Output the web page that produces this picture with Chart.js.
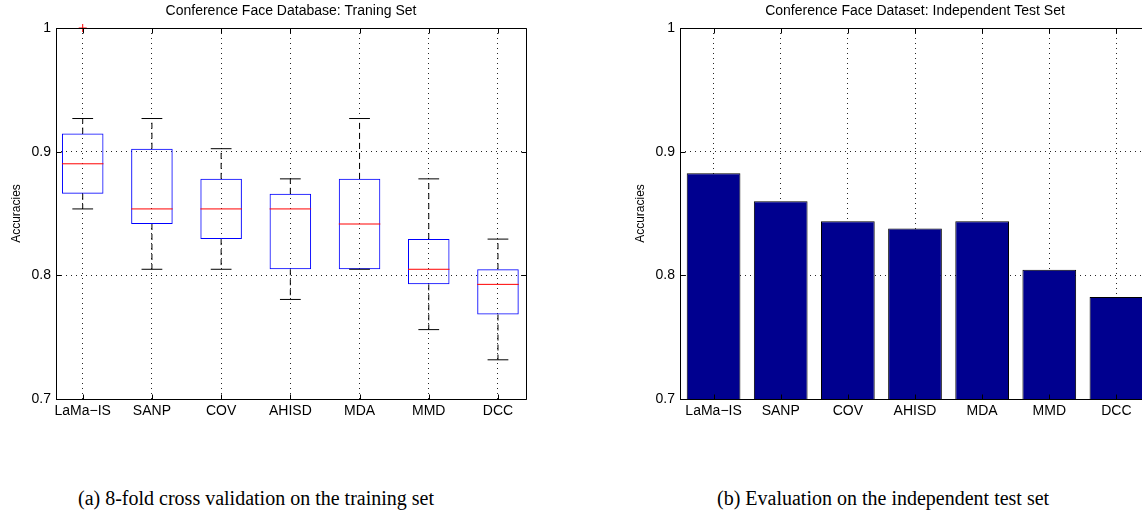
<!DOCTYPE html>
<html>
<head>
<meta charset="utf-8">
<script src="https://cdn.jsdelivr.net/npm/chart.js@4.4.1/dist/chart.umd.min.js"></script>
<style>
  html, body { margin: 0; padding: 0; background: #fff; width: 1142px; height: 513px; overflow: hidden; }
  #wrap { position: relative; width: 1142px; height: 513px; overflow: hidden; }
  canvas { position: absolute; top: 0; }
  #c1 { left: 0; }
  #c2 { left: 624px; }
  .cap { position: absolute; font-family: 'Liberation Serif', 'Times New Roman', serif; font-size: 20px; line-height: 20px; color: #000; white-space: nowrap; }
</style>
</head>
<body>
<div id="wrap">
  <canvas id="c1" width="582" height="440"></canvas>
  <canvas id="c2" width="582" height="440"></canvas>
  <div class="cap" style="left:78px; top:488px;">(a) 8-fold cross validation on the training set</div>
  <div class="cap" style="left:717px; top:488px;">(b) Evaluation on the independent test set</div>
</div>
<script>
// ---------- data ----------
const categories = ['LaMa\u2212IS', 'SANP', 'COV', 'AHISD', 'MDA', 'MMD', 'DCC'];
// training set (8-fold CV) box plot statistics
const upperWhisker = [0.9268, 0.9268, 0.9024, 0.8780, 0.9268, 0.8780, 0.8293];
const q3Values     = [0.9146, 0.9024, 0.8780, 0.8659, 0.8780, 0.8293, 0.8049];
const medianValues = [0.8902, 0.8537, 0.8537, 0.8537, 0.8415, 0.8049, 0.7927];
const q1Values     = [0.8659, 0.8415, 0.8293, 0.8049, 0.8049, 0.7927, 0.7683];
const lowerWhisker = [0.8537, 0.8049, 0.8049, 0.7805, 0.8049, 0.7561, 0.7317];
const outlierValues = [[1.0], [], [], [], [], [], []];
// independent test set accuracies
const testAccuracy = [0.8825, 0.8599, 0.8438, 0.8379, 0.8438, 0.8046, 0.7825];
const yTicks = [0.7, 0.8, 0.9, 1.0];
const titles = ['Conference Face Database: Traning Set', 'Conference Face Dataset: Independent Test Set'];

// ---------- helpers ----------
const FONT = "'Liberation Sans', Arial, Helvetica, sans-serif";
const GRID_COLOR = 'rgba(0,0,0,0.85)';

const panelPlugin = {
  id: 'panel',
  beforeDatasetsDraw(chart) {},
  afterDraw(chart, args, opts) {
    const { ctx, chartArea: { left, top, right, bottom } } = chart;
    ctx.save();
    // frame
    ctx.strokeStyle = '#000';
    ctx.lineWidth = 1;
    const L = Math.round(left) + 0.5, T = Math.round(top) + 0.5;
    const R = Math.round(right) + 0.5, B = Math.round(bottom) + 0.5;
    ctx.setLineDash([]);
    ctx.beginPath();
    ctx.moveTo(L, T); ctx.lineTo(R, T); ctx.lineTo(R, B); ctx.lineTo(L, B); ctx.closePath();
    ctx.stroke();
    // inward tick marks
    const xs = chart.scales.x, ys = chart.scales.y;
    ctx.beginPath();
    xs.ticks.forEach((t, i) => {
      const px = Math.round(xs.getPixelForTick(i)) + 0.5;
      ctx.moveTo(px, B); ctx.lineTo(px, B - 5);
      ctx.moveTo(px, T); ctx.lineTo(px, T + 5);
    });
    ys.ticks.forEach((t, i) => {
      const py = Math.round(ys.getPixelForTick(i)) + 0.5;
      ctx.moveTo(L, py); ctx.lineTo(L + 5, py);
      ctx.moveTo(R, py); ctx.lineTo(R - 5, py);
    });
    ctx.stroke();
    // panel title
    ctx.fillStyle = '#000';
    ctx.font = '14px ' + FONT;
    ctx.textAlign = 'center';
    ctx.textBaseline = 'middle';
    ctx.fillText(opts.text || '', (left + right) / 2, 11);
    ctx.restore();
  }
};

function yAxis() {
  return {
    type: 'linear',
    min: 0.7, max: 1.0,
    afterFit: s => { s.width = 56; },
    afterBuildTicks: s => { s.ticks = yTicks.map(v => ({ value: v })); },
    ticks: {
      color: '#000', padding: 5,
      font: { family: FONT, size: 14 },
      callback: v => String(Number(v.toFixed(2)))
    },
    grid: { color: GRID_COLOR, lineWidth: 1, drawTicks: false },
    border: { display: false, dash: [1, 4] },
    title: {
      display: true, text: 'Accuracies', color: '#000',
      font: { family: FONT, size: 12 },
      padding: { top: 9.5, bottom: 0 }
    }
  };
}

// ---------- left: box plots ----------
const pos = categories.map((_, i) => i + 1);
function segs(fn) {
  const out = [];
  pos.forEach((x, i) => { fn(x, i).forEach(p => out.push(p)); out.push({ x: x, y: null }); });
  return out;
}
const whiskerData = segs((x, i) => [
  { x: x, y: q3Values[i] }, { x: x, y: upperWhisker[i] }, { x: x, y: null },
  { x: x, y: q1Values[i] }, { x: x, y: lowerWhisker[i] }
]);
const capData = segs((x, i) => [
  { x: x - 0.15, y: upperWhisker[i] }, { x: x + 0.15, y: upperWhisker[i] }, { x: x, y: null },
  { x: x - 0.15, y: lowerWhisker[i] }, { x: x + 0.15, y: lowerWhisker[i] }
]);
const medianData = segs((x, i) => [
  { x: x - 0.3, y: medianValues[i] }, { x: x + 0.3, y: medianValues[i] }
]);
const outlierData = [];
outlierValues.forEach((arr, i) => arr.forEach(v => outlierData.push({ x: pos[i], y: v })));
const boxData = pos.map((x, i) => ({ x: x, y: [q1Values[i], q3Values[i]] }));

const lineBase = { type: 'line', pointRadius: 0, pointHoverRadius: 0, spanGaps: false, tension: 0, fill: false, borderWidth: 1 };

new Chart(document.getElementById('c1'), {
  type: 'bar',
  data: {
    datasets: [
      { ...lineBase, label: 'outliers', data: outlierData, showLine: false, pointRadius: 4, pointStyle: 'cross',
        pointBorderColor: '#ff0000', pointBorderWidth: 1, borderColor: '#ff0000', clip: false, order: 0 },
      { ...lineBase, label: 'median', data: medianData, borderColor: '#ff0000', order: 1 },
      { ...lineBase, label: 'caps', data: capData, borderColor: '#000', order: 2 },
      { ...lineBase, label: 'whiskers', data: whiskerData, borderColor: '#000', borderDash: [6, 4], order: 3 },
      { type: 'bar', label: 'box', data: boxData, backgroundColor: 'rgba(0,0,0,0)', borderColor: '#0000ff',
        borderWidth: 1, borderSkipped: false, barPercentage: 0.6, categoryPercentage: 1, order: 4 }
    ]
  },
  options: {
    responsive: false, animation: false, devicePixelRatio: 1,
    layout: { padding: { left: 0, right: 56, top: 28, bottom: 0 } },
    plugins: { legend: { display: false }, tooltip: { enabled: false }, title: { display: false },
      panel: { text: titles[0] } },
    scales: {
      x: {
        type: 'linear', min: 0.614, max: 7.405, offset: false,
        afterFit: s => { s.height = 41; },
        afterBuildTicks: s => { s.ticks = pos.map(v => ({ value: v })); },
        ticks: { color: '#000', padding: 4, autoSkip: false, maxRotation: 0,
          font: { family: FONT, size: 14 }, callback: v => categories[v - 1] },
        grid: { color: GRID_COLOR, lineWidth: 1, drawTicks: false, offset: false },
        border: { display: false, dash: [1, 4] }
      },
      y: yAxis()
    }
  },
  plugins: [panelPlugin]
});

// ---------- right: bar chart ----------
new Chart(document.getElementById('c2'), {
  type: 'bar',
  data: {
    labels: categories,
    datasets: [{
      label: 'test', data: testAccuracy, backgroundColor: '#00008f', borderColor: '#000',
      borderWidth: 1, borderSkipped: false, barPercentage: 1, categoryPercentage: 0.8
    }]
  },
  options: {
    responsive: false, animation: false, devicePixelRatio: 1,
    layout: { padding: { left: 0, right: 56, top: 28, bottom: 0 } },
    plugins: { legend: { display: false }, tooltip: { enabled: false }, title: { display: false },
      panel: { text: titles[1] } },
    scales: {
      x: {
        type: 'category', offset: true,
        afterFit: s => { s.height = 41; },
        ticks: { color: '#000', padding: 4, autoSkip: false, maxRotation: 0, font: { family: FONT, size: 14 } },
        grid: { color: GRID_COLOR, lineWidth: 1, drawTicks: false, offset: false },
        border: { display: false, dash: [1, 4] }
      },
      y: yAxis()
    }
  },
  plugins: [panelPlugin]
});
</script>
</body>
</html>
